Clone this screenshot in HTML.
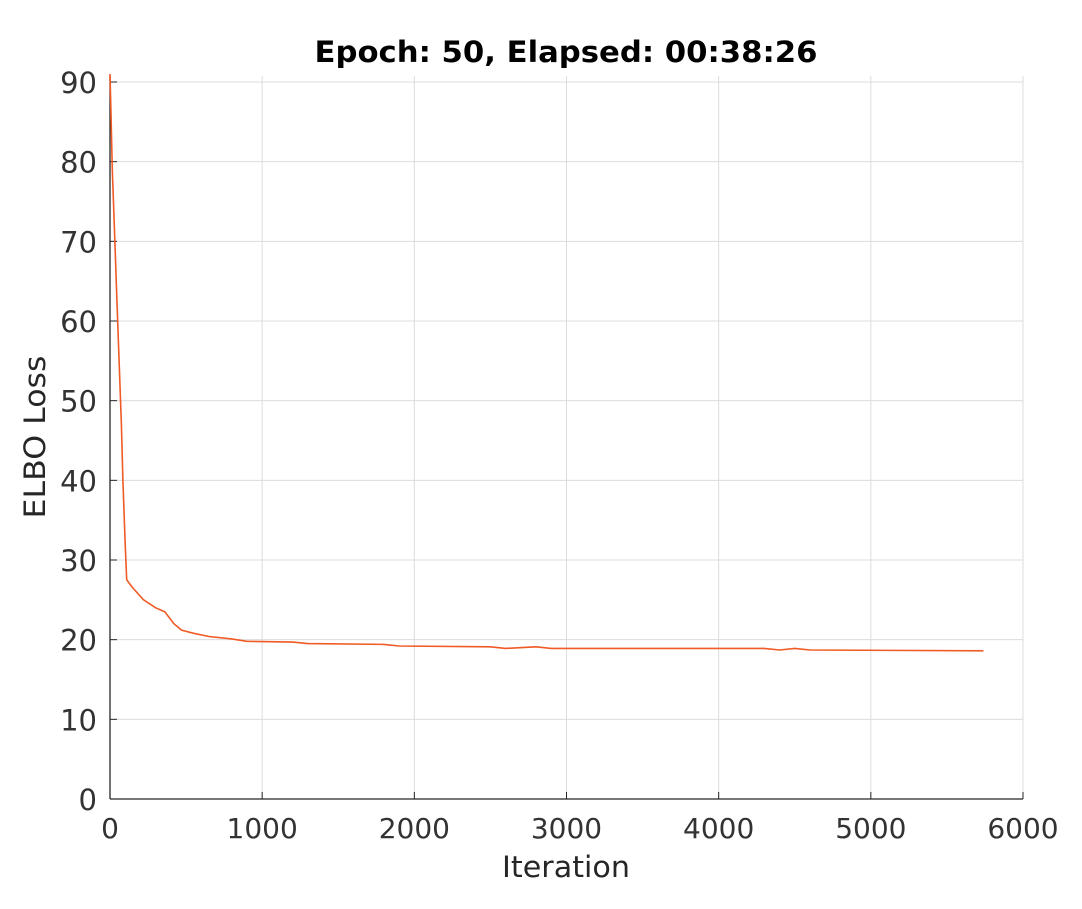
<!DOCTYPE html>
<html><head><meta charset="utf-8"><style>
body{margin:0;background:#fff;font-family:"DejaVu Sans","Liberation Sans",sans-serif;}
</style></head><body>
<svg id="chart" width="1082" height="905" xmlns="http://www.w3.org/2000/svg" font-family="DejaVu Sans, Liberation Sans, sans-serif">
<rect width="1082" height="905" fill="#fff"/>
<g id="grid"></g><g id="axes"></g><g id="series"></g>
<text x="566" y="62" text-anchor="middle" font-size="29" font-weight="bold" fill="#000" textLength="503" lengthAdjust="spacingAndGlyphs">Epoch: 50, Elapsed: 00:38:26</text>
<text x="566" y="877" text-anchor="middle" font-size="29" fill="#262626" textLength="128" lengthAdjust="spacingAndGlyphs">Iteration</text>
<text transform="translate(45,437) rotate(-90)" text-anchor="middle" font-size="29" fill="#262626" textLength="163" lengthAdjust="spacingAndGlyphs">ELBO Loss</text>
</svg>
<script>
const xTicks=[0,1000,2000,3000,4000,5000,6000];
const yTicks=[0,10,20,30,40,50,60,70,80,90];
const iterations=[0,5,15,30,45,60,75,85,100,110,150,220,300,360,420,470,550,650,800,900,1200,1300,1800,1900,2500,2600,2800,2900,4300,4400,4500,4600,5740];
const losses=[91,87,79,71,63,55,47,40,32,27.5,26.5,25,24,23.5,22,21.2,20.8,20.4,20.1,19.8,19.7,19.5,19.4,19.2,19.1,18.9,19.1,18.9,18.9,18.7,18.9,18.7,18.6];
const X0=110,X1=1023,Y0=799,Y1=82;
const xs=v=>X0+(v/6000)*(X1-X0);
const ys=v=>Y0-(v/90)*(Y0-Y1);
const NS="http://www.w3.org/2000/svg";
function mk(t,a,p){const e=document.createElementNS(NS,t);for(const k in a)e.setAttribute(k,a[k]);p.appendChild(e);return e;}
const grid=document.getElementById('grid'),axes=document.getElementById('axes'),ser=document.getElementById('series');
xTicks.forEach(t=>{
 const g=mk('line',{x1:xs(t),x2:xs(t),y1:Y1-6,y2:Y0,stroke:'#dcdcdc','stroke-width':1},grid);
 
 
 mk('line',{x1:xs(t),x2:xs(t),y1:Y0,y2:Y0-7,stroke:'#262626','stroke-width':1},axes);
 const l=mk('text',{x:xs(t),y:Y0+39,'text-anchor':'middle','font-size':28,fill:'#333'},axes);
 l.textContent=t;
 
 
});
yTicks.forEach(t=>{
 const g=mk('line',{x1:X0,x2:X1,y1:ys(t),y2:ys(t),stroke:'#dcdcdc','stroke-width':1},grid);
 
 
 mk('line',{x1:X0,x2:X0+7,y1:ys(t),y2:ys(t),stroke:'#262626','stroke-width':1},axes);
 const l=mk('text',{x:X0-13,y:ys(t)+11,'text-anchor':'end','font-size':29,fill:'#333'},axes);
 l.textContent=t;
 
 
});
const xa=mk('line',{x1:X0,x2:X1,y1:Y0,y2:Y0,stroke:'#262626','stroke-width':1.3},axes);


const ya=mk('line',{x1:X0,x2:X0,y1:Y1-6,y2:Y0,stroke:'#262626','stroke-width':1.3},axes);


let d='';
iterations.forEach((it,i)=>{d+=(i?'L':'M')+xs(it).toFixed(1)+','+ys(losses[i]).toFixed(1);});
const p=mk('path',{d:d,fill:'none',stroke:'#f05a24','stroke-width':1.6},ser);


</script>
</body></html>
